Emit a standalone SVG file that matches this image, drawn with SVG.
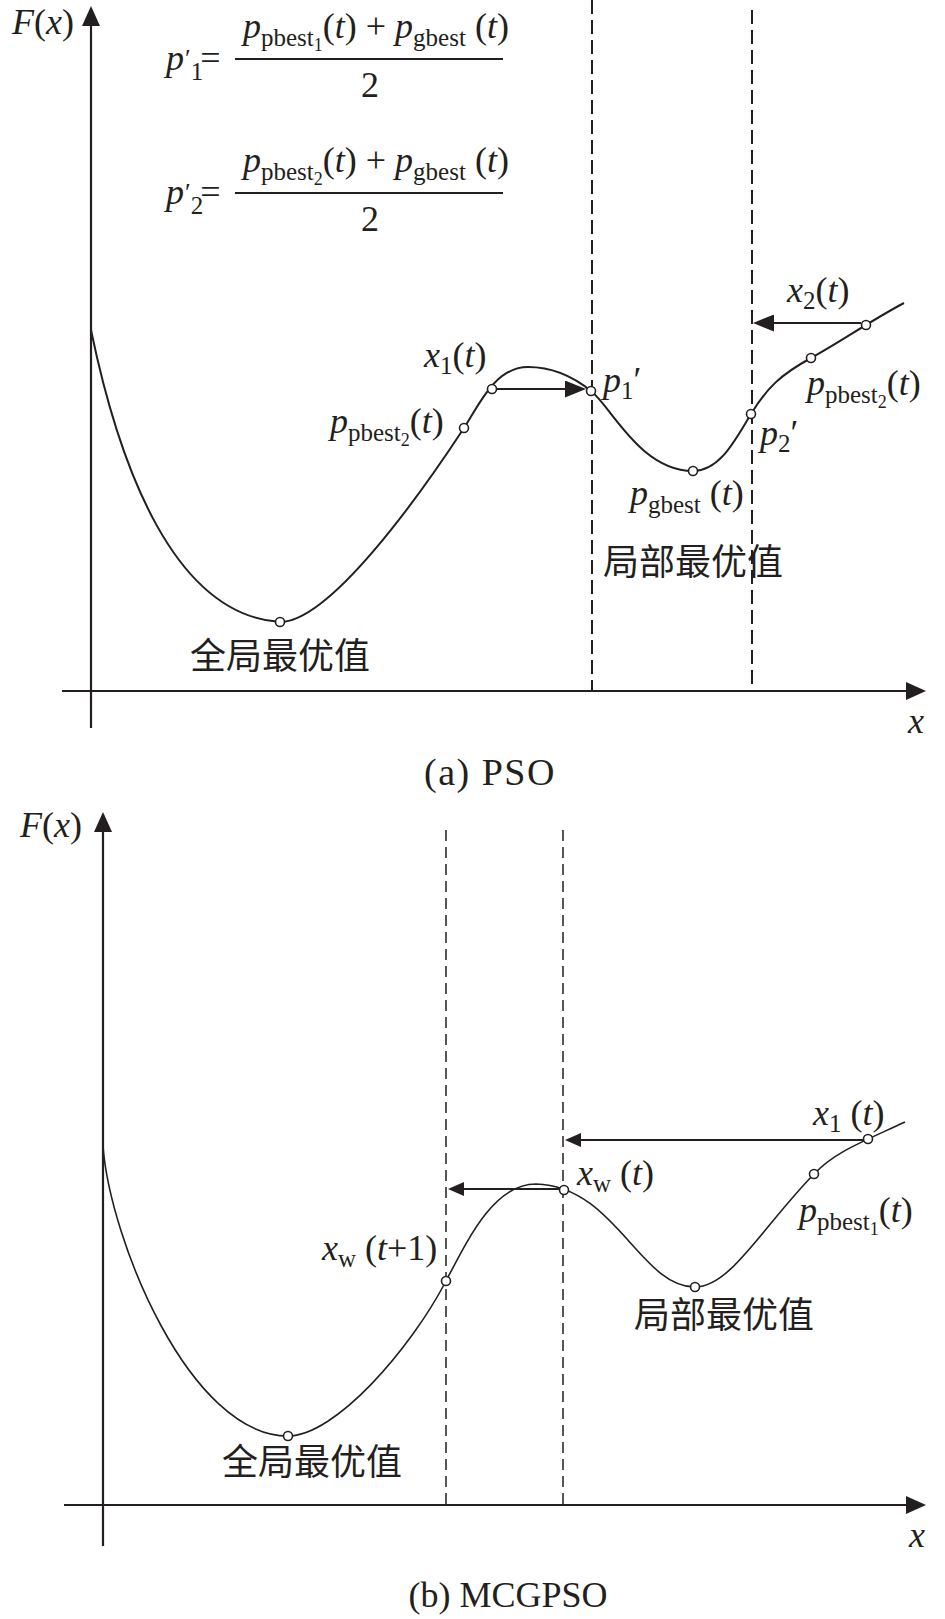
<svg xmlns="http://www.w3.org/2000/svg" width="945" height="1619" viewBox="0 0 945 1619">
<style>
.ax{stroke:#231f20;stroke-width:2.2;fill:none}
.cv{stroke:#231f20;stroke-width:2;fill:none}
.cvb{stroke:#231f20;stroke-width:1.6;fill:none}
.dsa{stroke:#231f20;stroke-width:2;stroke-dasharray:14 6;fill:none}
.dsb{stroke:#231f20;stroke-width:1.5;stroke-dasharray:11 6;fill:none}
.ar{stroke:#231f20;stroke-width:2;fill:none}
.pt{fill:#fff;stroke:#231f20;stroke-width:1.6}
text{font-family:"Liberation Serif","Times New Roman",serif;font-size:36px;fill:#231f20}
.i{font-style:italic}
.s{font-size:25px}
.ss{font-size:18px}
.pr{font-size:26px}
.cap{font-size:38px;letter-spacing:1.5px}
.cjk{font-family:"Noto Sans CJK SC","Noto Sans CJK TC",sans-serif;font-size:36px}
</style>
<defs>
<marker id="axh" markerUnits="userSpaceOnUse" markerWidth="20" markerHeight="18" refX="16" refY="9" orient="auto"><path d="M0,0 L20,9 L0,18 z" fill="#231f20"/></marker>
<marker id="ah" markerUnits="userSpaceOnUse" markerWidth="21" markerHeight="17" refX="17" refY="8.5" orient="auto"><path d="M0,0 L21,8.5 L0,17 z" fill="#231f20"/></marker>
<marker id="ahb" markerUnits="userSpaceOnUse" markerWidth="16" markerHeight="14" refX="12" refY="7" orient="auto"><path d="M0,0 L16,7 L0,14 z" fill="#231f20"/></marker>
</defs>
<rect width="945" height="1619" fill="#fff"/>

<!-- Panel (a) -->
<g id="axes-a">
<line class="ax" x1="91" y1="728" x2="91" y2="10" marker-end="url(#axh)"/>
<line class="ax" x1="62" y1="691" x2="922" y2="691" marker-end="url(#axh)"/>
<text x="12" y="34"><tspan class="i">F</tspan>(<tspan class="i">x</tspan>)</text>
<text x="908" y="733" class="i">x</text>
</g>
<g id="dashes-a">
<line class="dsa" x1="592" y1="0" x2="592" y2="690"/>
<line class="dsa" x1="752" y1="10" x2="752" y2="690"/>
</g>
<g id="formula-1">
<text x="166" y="70"><tspan class="i">p</tspan><tspan class="pr" dx="1" dy="-3">′</tspan><tspan class="s" dy="13">1</tspan><tspan dx="-3" dy="-10">=</tspan></text>
<text x="243" y="38"><tspan class="i">p</tspan><tspan class="s" dy="8">pbest</tspan><tspan class="ss" dy="5">1</tspan><tspan dy="-13">(</tspan><tspan class="i">t</tspan>) + <tspan class="i">p</tspan><tspan class="s" dy="8">gbest</tspan><tspan dy="-8"> (</tspan><tspan class="i">t</tspan>)</text>
<line x1="235" y1="59" x2="503" y2="59" stroke="#231f20" stroke-width="2"/>
<text x="370" y="97" text-anchor="middle">2</text>
</g>
<g id="formula-2">
<text x="166" y="204"><tspan class="i">p</tspan><tspan class="pr" dx="1" dy="-3">′</tspan><tspan class="s" dy="13">2</tspan><tspan dx="-3" dy="-10">=</tspan></text>
<text x="243" y="172"><tspan class="i">p</tspan><tspan class="s" dy="8">pbest</tspan><tspan class="ss" dy="5">2</tspan><tspan dy="-13">(</tspan><tspan class="i">t</tspan>) + <tspan class="i">p</tspan><tspan class="s" dy="8">gbest</tspan><tspan dy="-8"> (</tspan><tspan class="i">t</tspan>)</text>
<line x1="235" y1="193" x2="503" y2="193" stroke="#231f20" stroke-width="2"/>
<text x="370" y="231" text-anchor="middle">2</text>
</g>
<g id="curve-a">
<path class="cv" d="M91,330 C120,470 175,615 280,622 C330,622 420,495 464,428 C479,405 495,367 528,367 C555,367 575,378 591,391 C610,405 640,471 693,471 C720,471 735,440 751,414 C767,388 780,375 811,358 C842,341 870,321 904,303"/>
</g>
<g id="connectors-a">
<line class="ar" x1="497" y1="389" x2="582" y2="389" marker-end="url(#ah)"/>
<line class="ar" x1="861" y1="323" x2="757" y2="323" marker-end="url(#ah)"/>
</g>
<g id="points-a">
<circle class="pt" cx="280" cy="622" r="4.5"/>
<circle class="pt" cx="464" cy="428" r="4.5"/>
<circle class="pt" cx="492" cy="389" r="4.5"/>
<circle class="pt" cx="591" cy="391" r="4.5"/>
<circle class="pt" cx="693" cy="471" r="4.5"/>
<circle class="pt" cx="751" cy="414" r="4.5"/>
<circle class="pt" cx="811" cy="358" r="4.5"/>
<circle class="pt" cx="866" cy="325" r="4.5"/>
</g>
<g id="labels-a">
<text x="424" y="367"><tspan class="i">x</tspan><tspan class="s" dy="7">1</tspan><tspan dy="-7">(</tspan><tspan class="i">t</tspan>)</text>
<text x="603" y="392"><tspan class="i">p</tspan><tspan class="s" dy="7">1</tspan><tspan dy="-7">′</tspan></text>
<text x="330" y="433"><tspan class="i">p</tspan><tspan class="s" dy="8">pbest</tspan><tspan class="ss" dy="5">2</tspan><tspan dy="-13">(</tspan><tspan class="i">t</tspan>)</text>
<text x="630" y="505"><tspan class="i">p</tspan><tspan class="s" dy="8">gbest</tspan><tspan dy="-8"> (</tspan><tspan class="i">t</tspan>)</text>
<text x="760" y="445"><tspan class="i">p</tspan><tspan class="s" dy="7">2</tspan><tspan dy="-7">′</tspan></text>
<text x="787" y="302"><tspan class="i">x</tspan><tspan class="s" dy="7">2</tspan><tspan dy="-7">(</tspan><tspan class="i">t</tspan>)</text>
<text x="807" y="395"><tspan class="i">p</tspan><tspan class="s" dy="8">pbest</tspan><tspan class="ss" dy="5">2</tspan><tspan dy="-13">(</tspan><tspan class="i">t</tspan>)</text>
<text x="603" y="575" class="cjk">局部最优值</text>
<text x="190" y="669" class="cjk">全局最优值</text>
<text x="490" y="785" text-anchor="middle" class="cap">(a) PSO</text>
</g>

<!-- Panel (b) -->
<g id="axes-b">
<line class="ax" x1="103" y1="1546" x2="103" y2="816" marker-end="url(#axh)"/>
<line class="ax" x1="64" y1="1505" x2="922" y2="1505" marker-end="url(#axh)"/>
<text x="20" y="837"><tspan class="i">F</tspan>(<tspan class="i">x</tspan>)</text>
<text x="909" y="1547" class="i">x</text>
</g>
<g id="dashes-b">
<line class="dsb" x1="446" y1="830" x2="446" y2="1504"/>
<line class="dsb" x1="563" y1="830" x2="563" y2="1504"/>
</g>
<g id="curve-b">
<path class="cvb" d="M103,1146 C110,1240 190,1436 288,1436 C335,1436 410,1350 446,1281 C470,1235 495,1184 536,1184 C615,1186 640,1287 695,1287 C730,1287 760,1230 814,1174 C835,1152 860,1143 905,1122"/>
</g>
<g id="connectors-b">
<line class="ar" x1="863" y1="1140" x2="569" y2="1140" marker-end="url(#ahb)"/>
<line class="ar" x1="559" y1="1189" x2="452" y2="1189" marker-end="url(#ahb)"/>
</g>
<g id="points-b">
<circle class="pt" cx="288" cy="1436" r="4.5"/>
<circle class="pt" cx="446" cy="1281" r="4.5"/>
<circle class="pt" cx="564" cy="1190" r="4.5"/>
<circle class="pt" cx="695" cy="1287" r="4.5"/>
<circle class="pt" cx="814" cy="1174" r="4.5"/>
<circle class="pt" cx="868" cy="1139" r="4.5"/>
</g>
<g id="labels-b">
<text x="322" y="1260"><tspan class="i">x</tspan><tspan class="s" dy="7">w</tspan><tspan dy="-7"> (</tspan><tspan class="i">t</tspan>+1)</text>
<text x="577" y="1185"><tspan class="i">x</tspan><tspan class="s" dy="7">w</tspan><tspan dy="-7"> (</tspan><tspan class="i">t</tspan>)</text>
<text x="813" y="1125"><tspan class="i">x</tspan><tspan class="s" dy="7">1</tspan><tspan dy="-7"> (</tspan><tspan class="i">t</tspan>)</text>
<text x="799" y="1222"><tspan class="i">p</tspan><tspan class="s" dy="8">pbest</tspan><tspan class="ss" dy="5">1</tspan><tspan dy="-13">(</tspan><tspan class="i">t</tspan>)</text>
<text x="634" y="1328" class="cjk">局部最优值</text>
<text x="222" y="1475" class="cjk">全局最优值</text>
<text x="508" y="1607" text-anchor="middle">(b) MCGPSO</text>
</g>
</svg>
